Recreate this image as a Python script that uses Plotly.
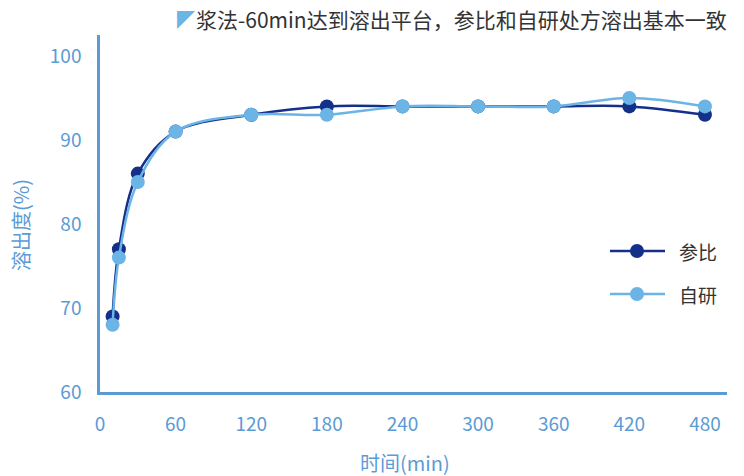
import plotly.graph_objects as go

# Dissolution profiles: paddle method, sampling times in minutes
times = [10, 15, 30, 60, 120, 180, 240, 300, 360, 420, 480]
ref_values = [69, 77, 86, 91, 93, 94, 94, 94, 94, 94, 93]    # 参比
self_values = [68, 76, 85, 91, 93, 93, 94, 94, 94, 95, 94]   # 自研
x_ticks = [0, 60, 120, 180, 240, 300, 360, 420, 480]
y_ticks = [60, 70, 80, 90, 100]

DARK = "#15308a"
LIGHT = "#6ab4e6"
AXIS = "#5b9bd5"
TEXT = "#333333"
FONT = "Noto Sans CJK SC"

W, H = 744, 476
L, R, T, B = 100, 17, 35, 84
PW, PH = W - L - R, H - T - B


def px(xp):
    return (xp - L) / PW


def py(yp):
    return (H - B - yp) / PH


fig = go.Figure()
for name, vals, col in [("参比", ref_values, DARK), ("自研", self_values, LIGHT)]:
    fig.add_trace(go.Scatter(
        x=times, y=vals, name=name, mode="lines+markers",
        line=dict(color=col, width=2.5, shape="spline", smoothing=1),
        marker=dict(color=col, size=14),
        showlegend=False,
    ))

axis_common = dict(
    showgrid=False, zeroline=False, showline=True, linecolor=AXIS, linewidth=2.5,
    ticks="", tickfont=dict(family=FONT, size=19, color=AXIS),
)
fig.update_xaxes(range=[0, 497.5], tickvals=x_ticks, ticklabelstandoff=13, **axis_common)
fig.update_yaxes(range=[60, 102.5], tickvals=y_ticks, ticklabelstandoff=12, **axis_common)


def note(text, xp, yp, size, color, xanchor="center", angle=0):
    return dict(text=text, x=px(xp), y=py(yp), xref="paper", yref="paper",
                xanchor=xanchor, yanchor="middle", showarrow=False, textangle=angle,
                font=dict(family=FONT, size=size, color=color))


annotations = [
    note("时间(min)", 405, 462, 20, AXIS),
    note("溶出度(%)", 20, 225, 20, AXIS, angle=-90),
    note("浆法-60min达到溶出平台，参比和自研处方溶出基本一致", 729, 19, 21, TEXT, xanchor="right"),
    note("◤", 186, 19, 18, LIGHT),
]

# Legend drawn as line + dot + label
shapes = []
for label, col, yp in [("参比", DARK, 251), ("自研", LIGHT, 294)]:
    shapes.append(dict(type="line", xref="paper", yref="paper",
                       x0=px(610), x1=px(665), y0=py(yp), y1=py(yp),
                       line=dict(color=col, width=2.5)))
    shapes.append(dict(type="circle", xref="paper", yref="paper",
                       xsizemode="pixel", ysizemode="pixel",
                       xanchor=px(637), yanchor=py(yp),
                       x0=-7, x1=7, y0=-7, y1=7,
                       fillcolor=col, line=dict(width=0)))
    annotations.append(note(label, 677, yp, 19, TEXT, xanchor="left"))

fig.update_layout(
    width=W, height=H,
    margin=dict(l=L, r=R, t=T, b=B),
    plot_bgcolor="white", paper_bgcolor="white",
    annotations=annotations, shapes=shapes,
    showlegend=False,
)

fig.write_html("out.html")
